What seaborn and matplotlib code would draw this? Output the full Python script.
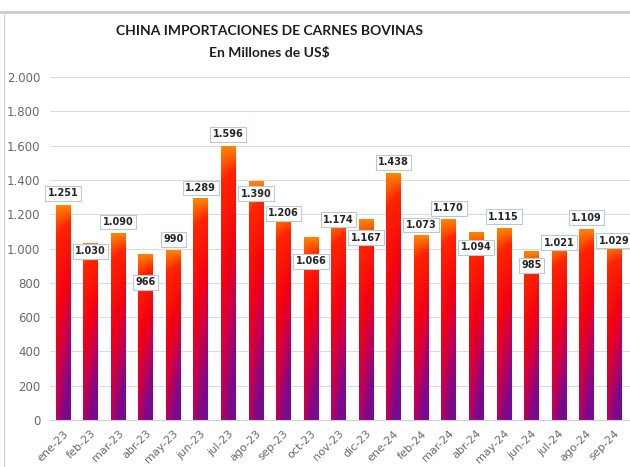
import numpy as np
import pandas as pd
import matplotlib
matplotlib.use("Agg")
import matplotlib.pyplot as plt
import seaborn as sns
from matplotlib.colors import LinearSegmentedColormap
from matplotlib.lines import Line2D

# datos: importaciones mensuales (millones de US$)
meses = ["ene-23", "feb-23", "mar-23", "abr-23", "may-23", "jun-23", "jul-23",
         "ago-23", "sep-23", "oct-23", "nov-23", "dic-23", "ene-24", "feb-24",
         "mar-24", "abr-24", "may-24", "jun-24", "jul-24", "ago-24", "sep-24"]
valores = [1251, 1030, 1090, 966, 990, 1289, 1596,
           1390, 1206, 1066, 1174, 1167, 1438, 1073,
           1170, 1094, 1115, 985, 1021, 1109, 1029]

# desplazamiento vertical de cada etiqueta (pixeles, + arriba de la barra)
desp_etiqueta = [12, -8, 11, -28, 11, 11, 12, -12, 0, -24, -1, -18,
                 11, 11, 11, -15, 12, -14, 2, 12, 3]

df = pd.DataFrame({"Mes": meses, "Valor": valores})

sns.set_style("white")
plt.rcParams["font.family"] = ["DejaVu Sans"]

fig = plt.figure(figsize=(6.3, 4.67), dpi=100)
ax = fig.add_axes([50 / 630, 47 / 467, 580 / 630, (420 - 77) / 467])

sns.barplot(data=df, x="Mes", y="Valor", ax=ax, width=0.53, color="red")

# degradado naranja -> rojo -> purpura en cada barra
cmap = LinearSegmentedColormap.from_list(
    "carne", [(0.0, "#ff8400"), (0.1, "#ff2400"), (0.42, "#f20012"),
              (0.66, "#c8004c"), (1.0, "#780a90")])
v = np.linspace(0, 1, 200)[:, None]
h = np.linspace(0, 1, 20)[None, :]
t = np.clip(v * (0.72 + 0.55 * h), 0, 1)
grad = cmap(t)

for p in ax.patches:
    x0, w, alto = p.get_x(), p.get_width(), p.get_height()
    ax.imshow(grad, extent=[x0, x0 + w, 0, alto], aspect="auto",
              zorder=2, interpolation="bilinear")
    p.set_facecolor("none")
    p.set_edgecolor("none")

ax.set_xlim(-0.47, 20.58)
ax.set_ylim(0, 2000)
ax.set_yticks(range(0, 2001, 200))
ax.set_yticklabels([f"{y:,}".replace(",", ".") for y in range(0, 2001, 200)])
ax.set_axisbelow(True)
ax.grid(axis="y", color="#dcdcdc", lw=0.8)
for s in ["left", "right", "top"]:
    ax.spines[s].set_visible(False)
ax.spines["bottom"].set_color("#d0d0d0")
ax.set_xlabel("")
ax.set_ylabel("")
ax.tick_params(axis="y", length=0, labelsize=8.5, colors="#6a6a6a", pad=7)
ax.tick_params(axis="x", length=0, labelsize=8, colors="#6a6a6a", pad=6)
plt.setp(ax.get_xticklabels(), rotation=45, ha="right", rotation_mode="anchor")

# etiquetas de datos
for i, (val, d) in enumerate(zip(valores, desp_etiqueta)):
    ax.annotate(f"{val:,}".replace(",", "."), xy=(i, val), xytext=(0, d),
                textcoords="offset pixels", ha="center", va="center",
                fontsize=7, fontweight="bold", color="#262626", zorder=5,
                annotation_clip=False,
                bbox=dict(boxstyle="square,pad=0.25", fc="white",
                          ec="#b7c9da", lw=0.8))

# titulos
fig.text(269 / 630, 1 - 31 / 467, "CHINA IMPORTACIONES DE CARNES BOVINAS",
         ha="center", va="center", fontsize=10, fontweight="bold",
         family="Lato", color="#1e1e1e")
fig.text(269 / 630, 1 - 53 / 467, "En Millones de US$",
         ha="center", va="center", fontsize=10, fontweight="bold",
         family="Lato", color="#1e1e1e")

# marco recortado
fig.add_artist(Line2D([0, 1], [1 - 12 / 467] * 2, transform=fig.transFigure,
                      color="#cccccc", lw=2))
fig.add_artist(Line2D([4 / 630] * 2, [0, 1 - 12 / 467], transform=fig.transFigure,
                      color="#d6d6d6", lw=1))

fig.savefig("out.png", dpi=100)
